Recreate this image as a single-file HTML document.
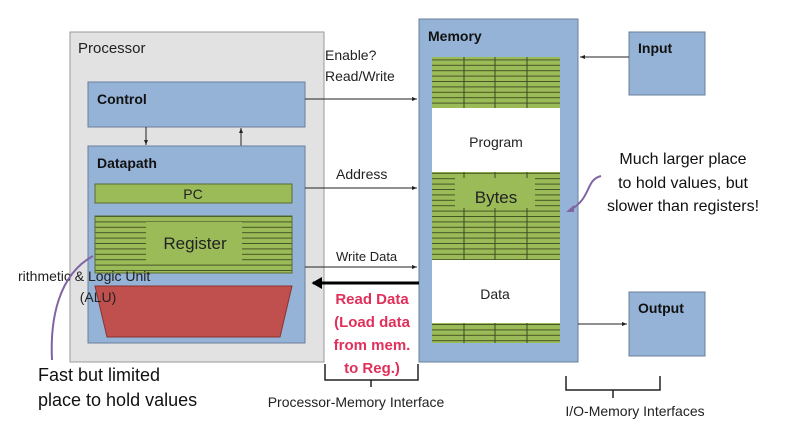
<!DOCTYPE html>
<html><head><style>
body{margin:0;width:800px;height:428px;background:#fff;overflow:hidden;font-family:"Liberation Sans",sans-serif}
</style></head><body>
<svg width="800" height="428" viewBox="0 0 800 428" xmlns="http://www.w3.org/2000/svg" font-family="Liberation Sans, sans-serif">
<defs>
<pattern id="rows" width="10" height="5.4" patternUnits="userSpaceOnUse"><rect width="10" height="5.4" fill="#9bbb59"/><line x1="0" y1="0.5" x2="10" y2="0.5" stroke="#3d4a1e" stroke-width="0.9"/></pattern>
<marker id="ah" markerWidth="6" markerHeight="6" refX="5" refY="3" orient="auto"><path d="M0,1 L5,3 L0,5z" fill="#222"/></marker>
<marker id="ahb" markerWidth="4" markerHeight="4" refX="3" refY="2" orient="auto"><path d="M0,0 L3.5,2 L0,4z" fill="#000"/></marker>
</defs>
<rect x="70" y="32" width="254" height="330" fill="#e2e2e2" stroke="#999"/>
<text x="78" y="53" font-size="15" fill="#222">Processor</text>
<rect x="88" y="82" width="217" height="45" fill="#95b3d7" stroke="#6a7f99"/>
<text x="97" y="104" font-size="14" font-weight="bold" fill="#111">Control</text>
<line x1="146" y1="127" x2="146" y2="145" stroke="#222" marker-end="url(#ah)"/>
<line x1="241" y1="146" x2="241" y2="128" stroke="#222" marker-end="url(#ah)"/>
<rect x="88" y="146" width="217" height="197" fill="#95b3d7" stroke="#6a7f99"/>
<text x="97" y="168" font-size="14" font-weight="bold" fill="#111">Datapath</text>
<rect x="95" y="184" width="197" height="19" fill="#9bbb59" stroke="#5a6b30"/>
<text x="193" y="199" font-size="14" text-anchor="middle" fill="#222">PC</text>
<rect x="95" y="216" width="197" height="57" fill="url(#rows)" stroke="#5a6b30"/>
<rect x="146" y="222" width="96" height="42" fill="#9bbb59"/>
<text x="195" y="249" font-size="17" text-anchor="middle" fill="#222">Register</text>
<polygon points="95,286 292,286 280,337 107,337" fill="#c0504d" stroke="#8a3330"/>
<text x="18" y="281" font-size="14" fill="#222">rithmetic &amp; Logic Unit</text>
<text x="98" y="302" font-size="14" text-anchor="middle" fill="#222">(ALU)</text>
<path d="M52,360 C50,320 58,275 93,256" stroke="#8064a2" stroke-width="2" fill="none"/>
<text x="38" y="381" font-size="18" fill="#111">Fast but limited</text>
<text x="38" y="406" font-size="18" fill="#111">place to hold values</text>
<rect x="419" y="19" width="159" height="343" fill="#95b3d7" stroke="#6a7f99"/>
<text x="428" y="41" font-size="14" font-weight="bold" fill="#111">Memory</text>
<rect x="432" y="57" width="128" height="51" fill="url(#rows)"/>
<rect x="432" y="172" width="128" height="88" fill="url(#rows)"/>
<rect x="432" y="323" width="128" height="20" fill="url(#rows)"/>
<g stroke="#3d4a1e" stroke-width="1">
<line x1="464" y1="57" x2="464" y2="108"/><line x1="495" y1="57" x2="495" y2="108"/><line x1="527" y1="57" x2="527" y2="108"/>
<line x1="464" y1="172" x2="464" y2="260"/><line x1="495" y1="172" x2="495" y2="260"/><line x1="527" y1="172" x2="527" y2="260"/>
<line x1="464" y1="323" x2="464" y2="343"/><line x1="495" y1="323" x2="495" y2="343"/><line x1="527" y1="323" x2="527" y2="343"/>
</g>
<rect x="455" y="178" width="80" height="30" fill="#9bbb59"/>
<text x="496" y="203" font-size="17" text-anchor="middle" fill="#222">Bytes</text>
<rect x="432" y="108" width="128" height="64" fill="#fff"/>
<text x="496" y="147" font-size="14" text-anchor="middle" fill="#222">Program</text>
<rect x="432" y="260" width="128" height="63" fill="#fff"/>
<text x="495" y="299" font-size="14" text-anchor="middle" fill="#222">Data</text>
<rect x="629" y="32" width="76" height="63" fill="#95b3d7" stroke="#6a7f99"/>
<text x="638" y="53" font-size="14" font-weight="bold" fill="#111">Input</text>
<rect x="629" y="292" width="76" height="64" fill="#95b3d7" stroke="#6a7f99"/>
<text x="638" y="313" font-size="14" font-weight="bold" fill="#111">Output</text>
<line x1="629" y1="57" x2="580" y2="57" stroke="#222" marker-end="url(#ah)"/>
<line x1="578" y1="324" x2="627" y2="324" stroke="#222" marker-end="url(#ah)"/>
<line x1="305" y1="99" x2="417" y2="99" stroke="#222" marker-end="url(#ah)"/>
<text x="325" y="60" font-size="14" fill="#222">Enable?</text>
<text x="325" y="81" font-size="14" fill="#222">Read/Write</text>
<line x1="305" y1="188" x2="417" y2="188" stroke="#222" marker-end="url(#ah)"/>
<text x="336" y="179" font-size="14" fill="#222">Address</text>
<line x1="305" y1="267" x2="417" y2="267" stroke="#222" marker-end="url(#ah)"/>
<text x="336" y="261" font-size="13" fill="#222">Write Data</text>
<line x1="419" y1="283" x2="313" y2="283" stroke="#000" stroke-width="3" marker-end="url(#ahb)"/>
<g font-size="15" font-weight="bold" fill="#e0305a" text-anchor="middle">
<text x="372" y="304">Read Data</text><text x="372" y="327">(Load data</text><text x="372" y="350">from mem.</text><text x="372" y="373">to Reg.)</text></g>
<path d="M325,364 V380 H371 V387 M371,380 H418 V364" stroke="#222" stroke-width="1.5" fill="none"/>
<text x="356" y="407" font-size="14" text-anchor="middle" fill="#222">Processor-Memory Interface</text>
<path d="M566,376 V390 H613 V398 M613,390 H660 V376" stroke="#222" stroke-width="1.5" fill="none"/>
<text x="635" y="416" font-size="14" text-anchor="middle" fill="#222">I/O-Memory Interfaces</text>
<path d="M601,176 C585,180 592,198 570,210" stroke="#8064a2" stroke-width="2" fill="none"/>
<path d="M566,212 L574,205 L574,212z" fill="#8064a2"/>
<g font-size="16" fill="#111" text-anchor="middle"><text x="683" y="164">Much larger place</text><text x="683" y="188">to hold values, but</text><text x="683" y="211">slower than registers!</text></g>
</svg>
</body></html>
